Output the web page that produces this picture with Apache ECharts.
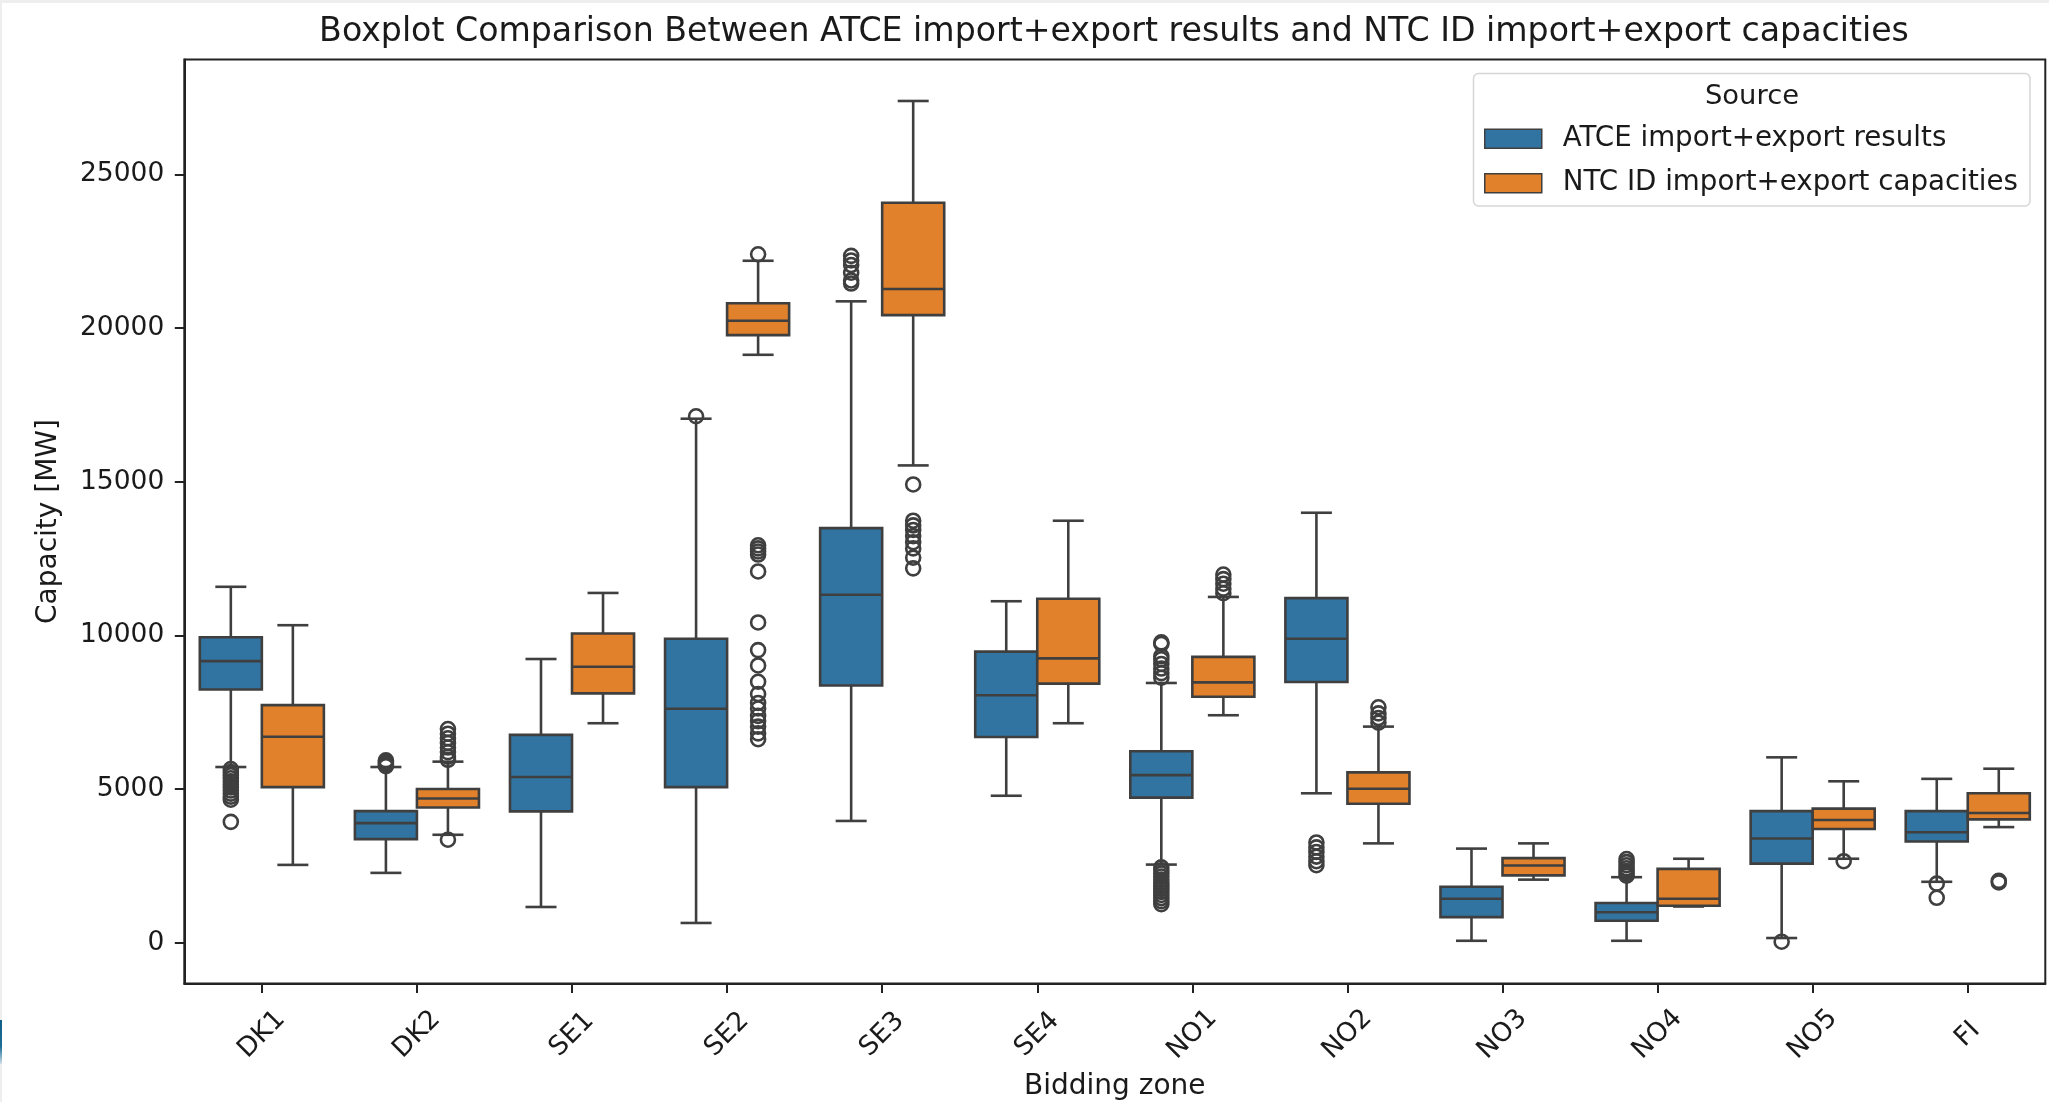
<!DOCTYPE html>
<html>
<head>
<meta charset="utf-8">
<script src="https://cdn.jsdelivr.net/npm/echarts@6.0.0/dist/echarts.min.js"></script>
<style>
html, body { margin: 0; padding: 0; background: #ffffff; }
#chart { width: 2049px; height: 1102px; }
</style>
</head>
<body>
<div id="chart"></div>
<script>
// ---------------- data ----------------
const categories = ['DK1', 'DK2', 'SE1', 'SE2', 'SE3', 'SE4', 'NO1', 'NO2', 'NO3', 'NO4', 'NO5', 'FI'];
const seriesNames = ['ATCE import+export results', 'NTC ID import+export capacities'];
const yTickValues = [0, 5000, 10000, 15000, 20000, 25000];

// ATCE import+export results
const atceLow    = [5715, 2270, 1160,   640,  3960,  4780, 2540,  4860,   60,   60,  150, 1980];
const atceQ1     = [8240, 3370, 4270,  5060,  8370,  6690, 4720,  8480,  830,  710, 2570, 3290];
const atceMedian = [9160, 3890, 5390,  7610, 11320,  8050, 5450,  9890, 1430,  990, 3390, 3590];
const atceQ3     = [9940, 4280, 6760,  9890, 13490,  9470, 6230, 11210, 1820, 1290, 4280, 4280];
const atceHigh   = [11580, 5715, 9230, 17050, 20870, 11110, 8450, 13990, 3060, 2130, 6030, 5330];
const atceOutliers = [
  [5650, 5550, 5450, 5350, 5250, 5150, 5050, 4950, 4850, 4750, 4650, 3930],
  [5930, 5880, 5830, 5780, 5740],
  [],
  [17130],
  [22350, 22200, 22050, 21800, 21550, 21450],
  [],
  [9770, 9720, 9320, 9220, 9070, 8920, 8770, 8620,
   2450, 2350, 2250, 2150, 2050, 1950, 1850, 1750, 1650, 1550, 1450, 1350, 1250],
  [3260, 3100, 2950, 2800, 2650, 2520],
  [],
  [2720, 2620, 2520, 2420, 2330, 2250, 2180],
  [30],
  [1920, 1460]
];

// NTC ID import+export capacities
const ntcLow    = [2530, 3510,  7140, 19130, 15530,  7140,  7400, 3230, 2050, 1175, 2730, 3760];
const ntcQ1     = [5060, 4400,  8110, 19770, 20420,  8430,  8000, 4520, 2190, 1200, 3700, 4010];
const ntcMedian = [6700, 4690,  8980, 20240, 21270,  9250,  8470, 5010, 2510, 1430, 3990, 4220];
const ntcQ3     = [7730, 5000, 10060, 20810, 24080, 11190,  9300, 5540, 2750, 2400, 4360, 4860];
const ntcHigh   = [10330, 5890, 11380, 22190, 27390, 13730, 11250, 7030, 3230, 2730, 5250, 5660];
const ntcOutliers = [
  [],
  [6950, 6800, 6650, 6500, 6350, 6200, 6050, 5950, 3350],
  [],
  [22400, 12930, 12830, 12730, 12630, 12080, 10420, 9520, 9020, 8490, 8090, 7800, 7620, 7380, 7210, 7030, 6810, 6620],
  [14910, 13730, 13580, 13430, 13230, 13030, 12830, 12530, 12180],
  [],
  [11980, 11830, 11680, 11520, 11370],
  [7660, 7460, 7310, 7160],
  [],
  [],
  [2650],
  [2010, 1960]
];

// ---------------- style ----------------
const FONT = '"DejaVu Sans", "Liberation Sans", sans-serif';
const TEXT = '#1a1a1a';
const AXIS = '#222222';
const LINE = '#3f3f3f';
const BLUE = '#3274a1';
const ORANGE = '#e1812c';
const LW = 2.6;
const BOX_FRAC = 0.4, OFFSET_FRAC = 0.2, CAP_FRAC = 0.5, FLIER_R = 7;
const Y_MIN = -1330, Y_MAX = 28740;

function buildBoxData(low, q1, med, q3, high) {
  return categories.map((c, i) => [i, low[i], q1[i], med[i], q3[i], high[i]]);
}
function buildFlierData(outliers) {
  const out = [];
  outliers.forEach((arr, i) => arr.forEach(v => out.push([i, v])));
  return out;
}

function boxRenderer(side, fill) {
  return function (params, api) {
    const cat = api.value(0);
    const band = api.size([1, 0])[0];
    const cx = api.coord([cat, 0])[0] + side * band * OFFSET_FRAC;
    const w = band * BOX_FRAC;
    const cw = w * CAP_FRAC / 2;
    const yLow = api.coord([cat, api.value(1)])[1];
    const yQ1 = api.coord([cat, api.value(2)])[1];
    const yMed = api.coord([cat, api.value(3)])[1];
    const yQ3 = api.coord([cat, api.value(4)])[1];
    const yHigh = api.coord([cat, api.value(5)])[1];
    const ls = () => ({ stroke: LINE, lineWidth: LW, fill: null });
    return {
      type: 'group',
      children: [
        { type: 'line', shape: { x1: cx, y1: yQ1, x2: cx, y2: yLow }, style: ls() },
        { type: 'line', shape: { x1: cx - cw, y1: yLow, x2: cx + cw, y2: yLow }, style: ls() },
        { type: 'line', shape: { x1: cx, y1: yQ3, x2: cx, y2: yHigh }, style: ls() },
        { type: 'line', shape: { x1: cx - cw, y1: yHigh, x2: cx + cw, y2: yHigh }, style: ls() },
        { type: 'rect', shape: { x: cx - w / 2, y: yQ3, width: w, height: yQ1 - yQ3 },
          style: { fill: fill, stroke: LINE, lineWidth: LW } },
        { type: 'line', shape: { x1: cx - w / 2, y1: yMed, x2: cx + w / 2, y2: yMed }, style: ls() }
      ]
    };
  };
}
function flierRenderer(side) {
  return function (params, api) {
    const cat = api.value(0);
    const band = api.size([1, 0])[0];
    const p = api.coord([cat, api.value(1)]);
    return {
      type: 'circle',
      shape: { cx: p[0] + side * band * OFFSET_FRAC, cy: p[1], r: FLIER_R },
      style: { fill: 'none', stroke: LINE, lineWidth: LW }
    };
  };
}

const chart = echarts.init(document.getElementById('chart'), null, { renderer: 'canvas', width: 2049, height: 1102 });

const option = {
  backgroundColor: '#ffffff',
  animation: false,
  grid: {
    left: 184.3, right: 3.7, top: 59.5, bottom: 118.5,
    show: true, borderColor: AXIS, borderWidth: 2, backgroundColor: '#ffffff',
    containLabel: false, outerBoundsMode: 'none'
  },
  legend: {
    orient: 'vertical', left: 1484, top: 124.8, padding: 0,
    itemWidth: 57, itemHeight: 19, itemGap: 16.4, icon: 'rect', selectedMode: false,
    textStyle: { fontFamily: FONT, fontSize: 27.7, color: TEXT, lineHeight: 26, padding: [0, 0, 0, 16] },
    data: [
      { name: seriesNames[0], itemStyle: { color: BLUE, borderColor: LINE, borderWidth: 1.5 } },
      { name: seriesNames[1], itemStyle: { color: ORANGE, borderColor: LINE, borderWidth: 1.5 } }
    ],
    z: 10
  },
  xAxis: {
    type: 'category', data: categories, boundaryGap: true,
    axisLine: { show: true, onZero: false, lineStyle: { color: AXIS, width: 2 } },
    axisTick: { show: true, alignWithLabel: true, length: 9.5, lineStyle: { color: AXIS, width: 2 } },
    axisLabel: { interval: 0, rotate: 45, align: 'center', verticalAlign: 'middle', margin: 51,
                 fontFamily: FONT, fontSize: 26.5, color: TEXT },
    splitLine: { show: false },
    name: 'Bidding zone', nameLocation: 'middle', nameGap: 89,
    nameTextStyle: { fontFamily: FONT, fontSize: 28, color: TEXT }
  },
  yAxis: {
    type: 'value', min: Y_MIN, max: Y_MAX,
    splitLine: { show: false },
    axisLine: { show: true, lineStyle: { color: AXIS, width: 2 } },
    axisTick: { show: true, length: 9.5, lineStyle: { color: AXIS, width: 2 }, customValues: yTickValues },
    axisLabel: { customValues: yTickValues, formatter: v => String(v), margin: 20,
                 fontFamily: FONT, fontSize: 26.5, color: TEXT },
    name: 'Capacity [MW]', nameLocation: 'middle', nameGap: 122, nameRotate: 90,
    nameTextStyle: { fontFamily: FONT, fontSize: 28, color: TEXT }
  },
  graphic: [
    { type: 'rect', z: 100, silent: true, shape: { x: 0, y: 0, width: 2049, height: 3 }, style: { fill: '#eeeeee' } },
    { type: 'rect', z: 100, silent: true, shape: { x: 0, y: 0, width: 2, height: 1102 }, style: { fill: '#eeeeee' } },
    { type: 'rect', z: 101, silent: true, shape: { x: 0, y: 1020, width: 2, height: 44 },
      style: { fill: { type: 'linear', x: 0, y: 0, x2: 0, y2: 1,
                       colorStops: [{ offset: 0, color: '#0f5f88' }, { offset: 0.6, color: '#1d6d95' }, { offset: 1, color: '#cfe0ea' }] } } },
    { type: 'text', z: 100, x: 1114, y: 32,
      style: { text: 'Boxplot Comparison Between ATCE import+export results and NTC ID import+export capacities',
               font: '33.2px ' + FONT, fill: TEXT, align: 'center', verticalAlign: 'middle',
               textAlign: 'center', textVerticalAlign: 'middle' } },
    { type: 'rect', z: 5, silent: true, shape: { x: 1473.5, y: 73.5, width: 556.5, height: 132.5, r: 5 },
      style: { fill: 'rgba(255,255,255,0.8)', stroke: '#d6d6d6', lineWidth: 1.5 } },
    { type: 'text', z: 11, x: 1752, y: 97,
      style: { text: 'Source', font: '27.4px ' + FONT, fill: TEXT, align: 'center', verticalAlign: 'middle',
               textAlign: 'center', textVerticalAlign: 'middle' } }
  ],
  series: [
    { type: 'custom', name: seriesNames[0], coordinateSystem: 'cartesian2d', z: 2,
      itemStyle: { color: BLUE }, renderItem: boxRenderer(-1, BLUE),
      encode: { x: 0, y: [1, 2, 3, 4, 5] },
      data: buildBoxData(atceLow, atceQ1, atceMedian, atceQ3, atceHigh) },
    { type: 'custom', name: seriesNames[1], coordinateSystem: 'cartesian2d', z: 2,
      itemStyle: { color: ORANGE }, renderItem: boxRenderer(1, ORANGE),
      encode: { x: 0, y: [1, 2, 3, 4, 5] },
      data: buildBoxData(ntcLow, ntcQ1, ntcMedian, ntcQ3, ntcHigh) },
    { type: 'custom', name: seriesNames[0], coordinateSystem: 'cartesian2d', z: 3,
      itemStyle: { color: BLUE }, renderItem: flierRenderer(-1),
      encode: { x: 0, y: 1 },
      data: buildFlierData(atceOutliers) },
    { type: 'custom', name: seriesNames[1], coordinateSystem: 'cartesian2d', z: 3,
      itemStyle: { color: ORANGE }, renderItem: flierRenderer(1),
      encode: { x: 0, y: 1 },
      data: buildFlierData(ntcOutliers) }
  ]
};
chart.setOption(option);
</script>
</body>
</html>
